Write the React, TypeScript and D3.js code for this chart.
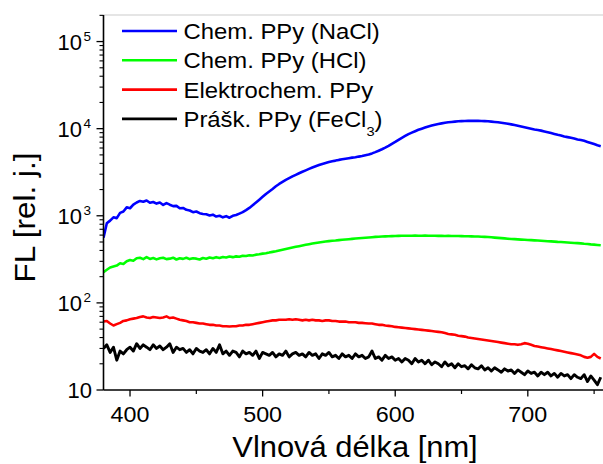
import React from 'react';
import * as d3 from 'd3';

// sampling grid of the spectra (nm)
const wavelengths: number[] = d3.range(380, 755.01, 2.5);

const chemNaCl = [
  560, 820, 880, 960, 940, 1080, 1120, 1250, 1220, 1340,
  1420, 1480, 1450, 1500, 1410, 1440, 1380, 1420, 1330, 1400,
  1340, 1290, 1300, 1220, 1230, 1170, 1150, 1100, 1120, 1070,
  1050, 1040, 1010, 1030, 980, 1000, 960, 990, 950, 1000,
  1020, 1060, 1100, 1160, 1230, 1320, 1420, 1530, 1650, 1780,
  1900, 2030, 2180, 2320, 2450, 2580, 2700, 2830, 2950, 3080,
  3200, 3320, 3450, 3580, 3700, 3820, 3940, 4040, 4140, 4230,
  4300, 4380, 4450, 4520, 4580, 4650, 4700, 4780, 4850, 4950,
  5050, 5200, 5380, 5580, 5800, 6050, 6350, 6700, 7050, 7450,
  7850, 8250, 8650, 9000, 9350, 9700, 10000, 10300, 10600, 10850,
  11100, 11300, 11500, 11700, 11850, 11950, 12050, 12150, 12200, 12250,
  12300, 12300, 12300, 12300, 12250, 12200, 12150, 12050, 11950, 11850,
  11700, 11550, 11400, 11200, 11000, 10800, 10600, 10400, 10200, 10000,
  9800, 9650, 9500, 9300, 9100, 8900, 8700, 8500, 8350, 8150,
  8000, 7850, 7700, 7530, 7400, 7250, 7050, 6850, 6650, 6450,
  6300,
];

const chemHCl = [
  225, 240, 255, 262, 268, 285, 280, 300, 310, 305,
  325, 330, 318, 335, 320, 328, 316, 325, 330, 318,
  322, 330, 315, 325, 320, 330, 318, 326, 322, 315,
  328, 322, 332, 325, 335, 328, 336, 332, 340, 335,
  342, 338, 348, 345, 352, 350, 358, 362, 368, 372,
  378, 385, 392, 400, 408, 416, 424, 432, 440, 448,
  456, 464, 472, 480, 487, 494, 500, 506, 512, 516,
  520, 526, 530, 534, 538, 543, 548, 552, 556, 560,
  564, 568, 572, 575, 578, 580, 582, 584, 586, 588,
  589, 590, 591, 590, 592, 591, 590, 592, 590, 589,
  590, 588, 589, 587, 588, 586, 585, 586, 584, 583,
  582, 580, 578, 578, 575, 572, 570, 566, 562, 558,
  554, 550, 546, 542, 539, 536, 533, 530, 528, 525,
  522, 520, 517, 514, 511, 508, 505, 502, 500, 497,
  494, 491, 488, 485, 482, 478, 475, 470, 466, 462,
  458,
];

const elektrochem = [
  61, 62, 58, 55, 57, 59, 62, 63, 65, 66,
  67, 69, 70, 68, 67, 69, 68, 67, 68, 70,
  67, 68, 66, 64, 63, 62, 60, 60, 59, 58,
  58, 57, 56, 56, 55, 55, 54, 54, 53.5, 54,
  54, 55, 55, 56, 56, 57, 58, 59, 60, 61,
  62, 63, 63, 64, 64, 64, 65, 64, 65, 64,
  63, 64, 63, 64, 63, 63, 62, 63, 63, 62,
  62, 61, 61, 61, 60, 60, 60, 59, 59, 58.5,
  58, 58, 57, 56, 56, 55, 54.5, 54, 53, 52.5,
  52, 51.5, 51, 50.5, 50, 49.5, 49, 48.5, 48, 47.5,
  47, 46.5, 46, 45, 44, 43.5, 43, 42, 41.5, 41,
  40, 39.5, 39, 38.5, 38, 37.5, 37, 36.5, 36, 35.5,
  35, 34.5, 34, 33.5, 33.5, 33, 33.5, 34.5, 34, 33,
  32, 31.5, 31, 30.5, 30, 29.5, 29, 28.5, 28, 27.5,
  27, 26.5, 26, 25.5, 25, 24, 23.5, 24, 26, 24,
  23,
];

const praskFeCl3 = [
  30, 33, 27, 31, 22, 28, 26, 29, 31, 28,
  34, 30, 33, 31, 29, 33, 30, 32, 29, 31,
  34, 27, 31, 29, 30, 27, 29, 26, 30, 28,
  27, 29, 26, 30, 27, 33, 26, 28, 25, 28,
  27, 24, 28, 26, 27, 25, 28, 23, 27, 26,
  25, 27, 24, 26, 25, 28, 24, 26, 27, 25,
  26, 24, 27, 25, 26, 23, 26, 25, 27, 24,
  25, 23, 26, 24, 25, 23, 26, 24, 25, 23,
  24, 28, 23, 24, 22, 25, 23, 24, 22, 23,
  21, 23, 22, 20, 23, 21, 22, 20, 22, 19.5,
  21, 20, 18.5, 21, 19, 20, 18, 20, 18.5, 19,
  17.5, 19.5, 18, 17.5, 19, 17, 18, 16.5, 18, 17,
  16, 17.5, 16.5, 17, 15.5, 17, 16, 15, 16.5, 15.5,
  16, 14.5, 16, 15, 16, 14.5, 15.5, 14, 15.5, 14.5,
  15, 13.5, 15, 14, 13.5, 15, 12.5, 14.5, 13, 11.5,
  14,
];

const seriesLabels = ['Chem. PPy (NaCl)', 'Chem. PPy (HCl)', 'Elektrochem. PPy', 'Prášk. PPy (FeCl'];
const seriesColors = ['#0000ff', '#00ff00', '#ff0000', '#000000'];
const seriesValues = [chemNaCl, chemHCl, elektrochem, praskFeCl3];

const xMajorTicks = [400, 500, 600, 700];
const xMinorTicks = [450, 550, 650, 750];
const yMajorTicks = [10, 100, 1000, 10000, 100000];
const yExponents = ['', '2', '3', '4', '5'];

const FONT = "'Liberation Sans', Arial, Helvetica, sans-serif";

export default function App() {
  const left = 103.5, right = 603, top = 15, bottom = 390;
  const x = d3.scaleLinear().domain([380, 756.7]).range([left, right]);
  const y = d3.scaleLog().domain([10, 201800]).range([bottom, top]);

  const line = d3
    .line<number>()
    .x((_, i) => x(wavelengths[i]))
    .y((d) => y(d));

  const yMinor: number[] = [];
  for (let k = 1; k <= 5; k++) {
    for (let m = 2; m <= 9; m++) {
      const v = m * Math.pow(10, k);
      if (v <= y.domain()[1]) yMinor.push(v);
    }
  }

  return (
    <svg
      width={603}
      height={464}
      style={{ position: 'absolute', left: 0, top: 0, background: '#fff' }}
      fontFamily={FONT}
    >
      <defs>
        <clipPath id="plotClip">
          <rect x={left} y={top} width={right - left} height={bottom - top} />
        </clipPath>
      </defs>
      <rect x={0} y={0} width={603} height={464} fill="#fff" />
      {/* top frame */}
      <line x1={left} x2={right} y1={top} y2={top} stroke="#cccccc" strokeWidth={1.2} />

      {/* series */}
      <g clipPath="url(#plotClip)">
        {seriesValues.map((vals, si) => (
          <path
            key={si}
            d={line(vals) || ''}
            fill="none"
            stroke={seriesColors[si]}
            strokeWidth={si === 3 ? 2.9 : 2.6}
            strokeLinejoin="round"
          />
        ))}
      </g>

      {/* axes */}
      <line x1={left} x2={left} y1={top} y2={bottom} stroke="#000" strokeWidth={1.6} />
      <line x1={left} x2={right} y1={bottom} y2={bottom} stroke="#000" strokeWidth={1.6} />

      {/* x ticks */}
      {xMajorTicks.map((t) => (
        <g key={'xm' + t}>
          <line x1={x(t)} x2={x(t)} y1={bottom} y2={bottom + 6.5} stroke="#000" strokeWidth={1.3} />
          <text
            transform={`translate(${x(t)},${422}) scale(1.06,1)`}
            textAnchor="middle"
            fontSize={22}
            fill="#000"
          >
            {t}
          </text>
        </g>
      ))}
      {xMinorTicks.map((t) => (
        <line key={'xn' + t} x1={x(t)} x2={x(t)} y1={bottom} y2={bottom + 4} stroke="#000" strokeWidth={1.2} />
      ))}

      {/* y ticks */}
      {yMinor.map((t) => (
        <line key={'yn' + t} x1={left - 4} x2={left} y1={y(t)} y2={y(t)} stroke="#000" strokeWidth={1.1} />
      ))}
      {yMajorTicks.map((t, i) => (
        <g key={'ym' + t}>
          <line x1={left - 7} x2={left} y1={y(t)} y2={y(t)} stroke="#000" strokeWidth={1.3} />
          {yExponents[i] === '' ? (
            <text x={92} y={y(t) + 8} textAnchor="end" fontSize={22} fill="#000">
              10
            </text>
          ) : (
            <g>
              <text x={82} y={y(t) + 8} textAnchor="end" fontSize={22} fill="#000">
                10
              </text>
              <text x={83.5} y={y(t) - 1} fontSize={13.5} fill="#000">
                {yExponents[i]}
              </text>
            </g>
          )}
        </g>
      ))}

      {/* axis titles */}
      <text
        transform={`translate(35,217.5) rotate(-90) scale(1.05,1)`}
        textAnchor="middle"
        fontSize={30}
        fill="#000"
      >
        FL [rel. j.]
      </text>
      <text
        transform={`translate(355,456.5) scale(1.065,1)`}
        textAnchor="middle"
        fontSize={29}
        fill="#000"
      >
        Vlnová délka [nm]
      </text>

      {/* legend */}
      {seriesLabels.map((lab, i) => {
        const ly = 31 + i * 29.3;
        return (
          <g key={'lg' + i}>
            <line x1={122} x2={177} y1={ly} y2={ly} stroke={seriesColors[i]} strokeWidth={2.6} />
            <text transform={`translate(183.5,${ly + 8}) scale(1.085,1)`} fontSize={22} fill="#000">
              {lab}
              {i === 3 ? (
                <>
                  <tspan fontSize={13.5} dy={9}>3</tspan>
                  <tspan dy={-9}>)</tspan>
                </>
              ) : null}
            </text>
          </g>
        );
      })}
    </svg>
  );
}
